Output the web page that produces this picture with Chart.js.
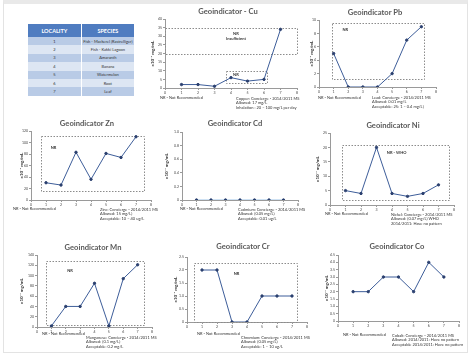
<!DOCTYPE html>
<html>
<head>
<meta charset="utf-8">
<script src="https://cdn.jsdelivr.net/npm/chart.js@4.4.1/dist/chart.umd.min.js"></script>
<style>
  body { margin: 0; background: #fff; font-family: Lato, "Open Sans", sans-serif; }
  #page { position: relative; width: 474px; height: 360px; overflow: hidden; }
  .frame { position: absolute; left: 3px; top: 0; width: 465px; height: 353px; border: 1px solid #e3e3e3; border-top: 4px solid #e9e9e9; box-sizing: border-box; }
  canvas { position: absolute; }
  .title { position: absolute; font-weight: bold; font-size: 7.6px; color: #595959; transform: translateX(-50%); white-space: nowrap; }
  .note { position: absolute; font-size: 4px; line-height: 4.4px; color: #333; white-space: nowrap; }
  table { position: absolute; left: 28px; top: 24px; width: 107px; border-collapse: collapse; font-size: 4px; color: #333; }
  th { background: #4f7cc0; color: #fff; font-size: 5.5px; height: 13px; font-weight: bold; padding: 0; border-right: 1px solid #fff; }
  td { height: 8.4px; padding: 0; text-align: center; border-right: 1px solid #fff; }
  tr:nth-child(odd) td { background: #b9cbe6; }
  tr:nth-child(even) td { background: #dde6f3; }
</style>
</head>
<body>
<div id="page">
  <div class="frame"></div>
  <table id="tbl">
    <thead><tr><th style="width:50%">LOCALITY</th><th>SPECIES</th></tr></thead>
    <tbody></tbody>
  </table>
</div>
<script>
// localities and what was sampled there
const localities = [1, 2, 3, 4, 5, 6, 7];
const species = ['Fish - Mackerel (Rastrelliger)', 'Fish - Kakki Lagoon', 'Amaranth', 'Banana', 'Watermelon', 'Root', 'Leaf'];

// x10^-1 mg/mL per locality
const cuValues = [2, 2, 1, 6, 4, 5, 34];
const pbValues = [5, 0, 0, 0, 2, 7, 9];
const znValues = [30, 26, 83, 36, 81, 74, 110];
const cdValues = [0, 0, 0, 0, 0, 0, 0];
const niValues = [5, 4, 20, 4, 3, 4, 7];
const mnValues = [2, 40, 40, 85, 2, 94, 121];
const crValues = [2, 2, 0, 0, 1, 1, 1];
const coValues = [2, 2, 3, 3, 2, 4, 3];

const xTicks = [0, 8];

const tbody = document.querySelector('#tbl tbody');
localities.forEach((loc, i) => {
  const tr = document.createElement('tr');
  tr.innerHTML = '<td>' + loc + '</td><td>' + species[i] + '</td>';
  tbody.appendChild(tr);
});

const page = document.getElementById('page');
const FONT = 'Lato, "Open Sans", sans-serif';

// dotted "not recommended" boxes, drawn in data units
const boxPlugin = {
  id: 'nrBoxes',
  beforeDatasetsDraw(chart) {
    const boxes = chart.$boxes || [];
    const { ctx } = chart;
    const x = chart.scales.x, y = chart.scales.y;
    ctx.save();
    boxes.forEach(b => {
      const l = Math.round(x.getPixelForValue(b.x[0])) + 0.5;
      const r = Math.round(x.getPixelForValue(b.x[1])) + 0.5;
      const t = Math.round(y.getPixelForValue(b.y[1])) + 0.5;
      const bt = Math.round(y.getPixelForValue(b.y[0])) + 0.5;
      ctx.setLineDash([1.5, 1.5]);
      ctx.strokeStyle = '#8c8c8c';
      ctx.lineWidth = 1;
      ctx.strokeRect(l, t, r - l, bt - t);
      ctx.setLineDash([]);
      ctx.fillStyle = '#333';
      ctx.font = 'bold 4px ' + FONT;
      ctx.textAlign = 'center';
      ctx.textBaseline = 'middle';
      b.text.forEach((s, i) => {
        ctx.fillText(s, x.getPixelForValue(b.tx), y.getPixelForValue(b.ty) + i * 4.5);
      });
    });
    ctx.restore();
  }
};

function addText(cls, left, top, html) {
  const d = document.createElement('div');
  d.className = cls;
  d.style.left = left + 'px';
  d.style.top = top + 'px';
  d.innerHTML = html;
  page.appendChild(d);
}

function makeChart(p) {
  const left = p.labelX - 3;
  const top = p.plot[2] - 4;
  const w = p.plot[1] + 5 - left;
  const h = p.plot[3] + 9 - top;
  const c = document.createElement('canvas');
  c.width = w; c.height = h;
  c.style.left = left + 'px';
  c.style.top = top + 'px';
  c.style.width = w + 'px';
  c.style.height = h + 'px';
  page.appendChild(c);

  addText('title', p.titleX, p.titleY - 5, p.title);
  addText('note', p.nrPos[0], p.nrPos[1] - 2, 'NR - Not Recommended');
  addText('note', p.notePos[0], p.notePos[1] - 2, p.note.join('<br>'));

  const axisGrid = { drawOnChartArea: false, drawTicks: true, tickLength: 2, color: '#9a9a9a' };
  const chart = new Chart(c, {
    type: 'scatter',
    data: {
      datasets: [{
        data: localities.map((l, i) => ({ x: l, y: p.values[i] })),
        showLine: true,
        borderColor: p.lineColor || '#3d5d99',
        borderWidth: 1,
        pointRadius: 1.2,
        pointBackgroundColor: '#2a3f6e',
        pointBorderColor: '#2a3f6e',
        tension: 0
      }]
    },
    options: {
      responsive: false,
      animation: false,
      layout: { padding: { top: 4, right: 5, left: 0, bottom: 0 } },
      plugins: { legend: { display: false }, tooltip: { enabled: false } },
      scales: {
        x: {
          type: 'linear', min: xTicks[0], max: xTicks[1],
          grid: axisGrid,
          border: { display: true, color: '#9a9a9a' },
          ticks: { stepSize: 1, font: { size: 3.5, family: FONT }, color: '#444', padding: 1, maxRotation: 0 },
          afterFit(s) { s.height = 9; }
        },
        y: {
          min: 0, max: p.yMax,
          grid: axisGrid,
          border: { display: true, color: '#9a9a9a' },
          ticks: { stepSize: p.yStep, font: { size: 3.5, family: FONT }, color: '#444', padding: 1 },
          title: { display: true, text: 'x10\u207B\u00B9 mg/mL', font: { size: 4.5, weight: 'bold', family: FONT }, color: '#333', padding: 0 },
          afterFit(s) { s.width = p.plot[0] - left; }
        }
      }
    },
    plugins: [boxPlugin]
  });
  chart.$boxes = p.boxes || [];
  chart.draw();
  return chart;
}

makeChart({
  title: 'Geoindicator - Cu', titleX: 228, titleY: 11,
  labelX: 153, plot: [165, 297, 18, 88],
  values: cuValues, yMax: 40, yStep: 5,
  boxes: [
    { x: [0, 8], y: [20, 35], tx: 4.3, ty: 31.4, text: ['NR', 'Insufficient'] },
    { x: [3.7, 6.2], y: [3, 10], tx: 4.3, ty: 7.6, text: ['NR'] }
  ],
  nrPos: [160, 98], notePos: [236, 99],
  note: ['Copper: Concierge - 2014/2011 MS', 'Allowed: 17 mg/L', 'Inhalation : 20 \u2013 100 mg/L per day']
});

makeChart({
  title: 'Geoindicator Pb', titleX: 375, titleY: 12,
  labelX: 312, plot: [319, 436, 19, 87],
  values: pbValues, yMax: 10, yStep: 1,
  boxes: [
    { x: [0.9, 7.2], y: [1.2, 9.5], tx: 1.8, ty: 8.5, text: ['NR'] }
  ],
  nrPos: [318, 98], notePos: [372, 98],
  note: ['Lead: Concierge - 2014/2011 MS', 'Allowed: 0.01 mg/L', 'Acceptable: 25: 1 \u2013 0.4 mg/L)']
});

makeChart({
  title: 'Geoindicator Zn', titleX: 87, titleY: 123,
  labelX: 22, plot: [31, 151, 130, 200],
  values: znValues, yMax: 120, yStep: 20,
  boxes: [
    { x: [0.67, 7.5], y: [15, 112], tx: 1.5, ty: 91, text: ['NR'] }
  ],
  nrPos: [13, 209], notePos: [100, 210],
  note: ['Zinc: Concierge - 2014/2011 MS', 'Allowed: 15 mg/L)', 'Acceptable: 10 \u2013 40 ug/L']
});

makeChart({
  title: 'Geoindicator Cd', titleX: 235, titleY: 123,
  labelX: 167, plot: [182, 298, 131, 200],
  values: cdValues, yMax: 1, yStep: 0.1, lineColor: '#9dc3e6',
  nrPos: [180, 209], notePos: [238, 210],
  note: ['Cadmium: Concierge - 2014/2011 MS', 'Allowed: (0.05 mg/L)', 'Acceptable: 0.01 ug/L']
});

makeChart({
  title: 'Geoindicator Ni', titleX: 393, titleY: 125,
  labelX: 318, plot: [330, 454, 132, 205],
  values: niValues, yMax: 25, yStep: 5,
  boxes: [
    { x: [0.8, 7.66], y: [1.7, 21], tx: 4.3, ty: 18.2, text: ['NR - WHO'] }
  ],
  nrPos: [325, 214], notePos: [391, 215],
  note: ['Nickel: Concierge - 2014/2011 MS', 'Allowed: (0.07 mg/L) WHO', '2014/2011: Have no pattern']
});

makeChart({
  title: 'Geoindicator Mn', titleX: 93, titleY: 247,
  labelX: 22, plot: [37, 152, 254, 327],
  values: mnValues, yMax: 140, yStep: 20,
  boxes: [
    { x: [0.65, 7.47], y: [3.2, 128.6], tx: 2.3, ty: 109, text: ['NR'] }
  ],
  nrPos: [42, 334], notePos: [86, 338],
  note: ['Manganese: Concierge - 2014/2011 MS', 'Allowed: (0.1 mg/L)', 'Acceptable: 0.2 mg/L']
});

makeChart({
  title: 'Geoindicator Cr', titleX: 243, titleY: 246,
  labelX: 176, plot: [187, 307, 256, 322],
  values: crValues, yMax: 2.5, yStep: 0.5,
  boxes: [
    { x: [0.47, 7.33], y: [0, 2.25], tx: 3.3, ty: 1.87, text: ['NR'] }
  ],
  nrPos: [197, 334], notePos: [241, 338],
  note: ['Chromium: Concierge - 2014/2011 MS', 'Allowed: (0.05 mg/L)', 'Acceptable: 1 \u2013 10 ug/L']
});

makeChart({
  title: 'Geoindicator Co', titleX: 397, titleY: 246,
  labelX: 327, plot: [338, 459, 254, 321],
  values: coValues, yMax: 4.5, yStep: 0.5,
  nrPos: [343, 335], notePos: [392, 336],
  note: ['Cobalt: Concierge - 2014/2011 MS', 'Allowed:  2014/2011: Have no pattern', 'Acceptable 2014/2011: Have no pattern']
});
</script>
</body>
</html>
